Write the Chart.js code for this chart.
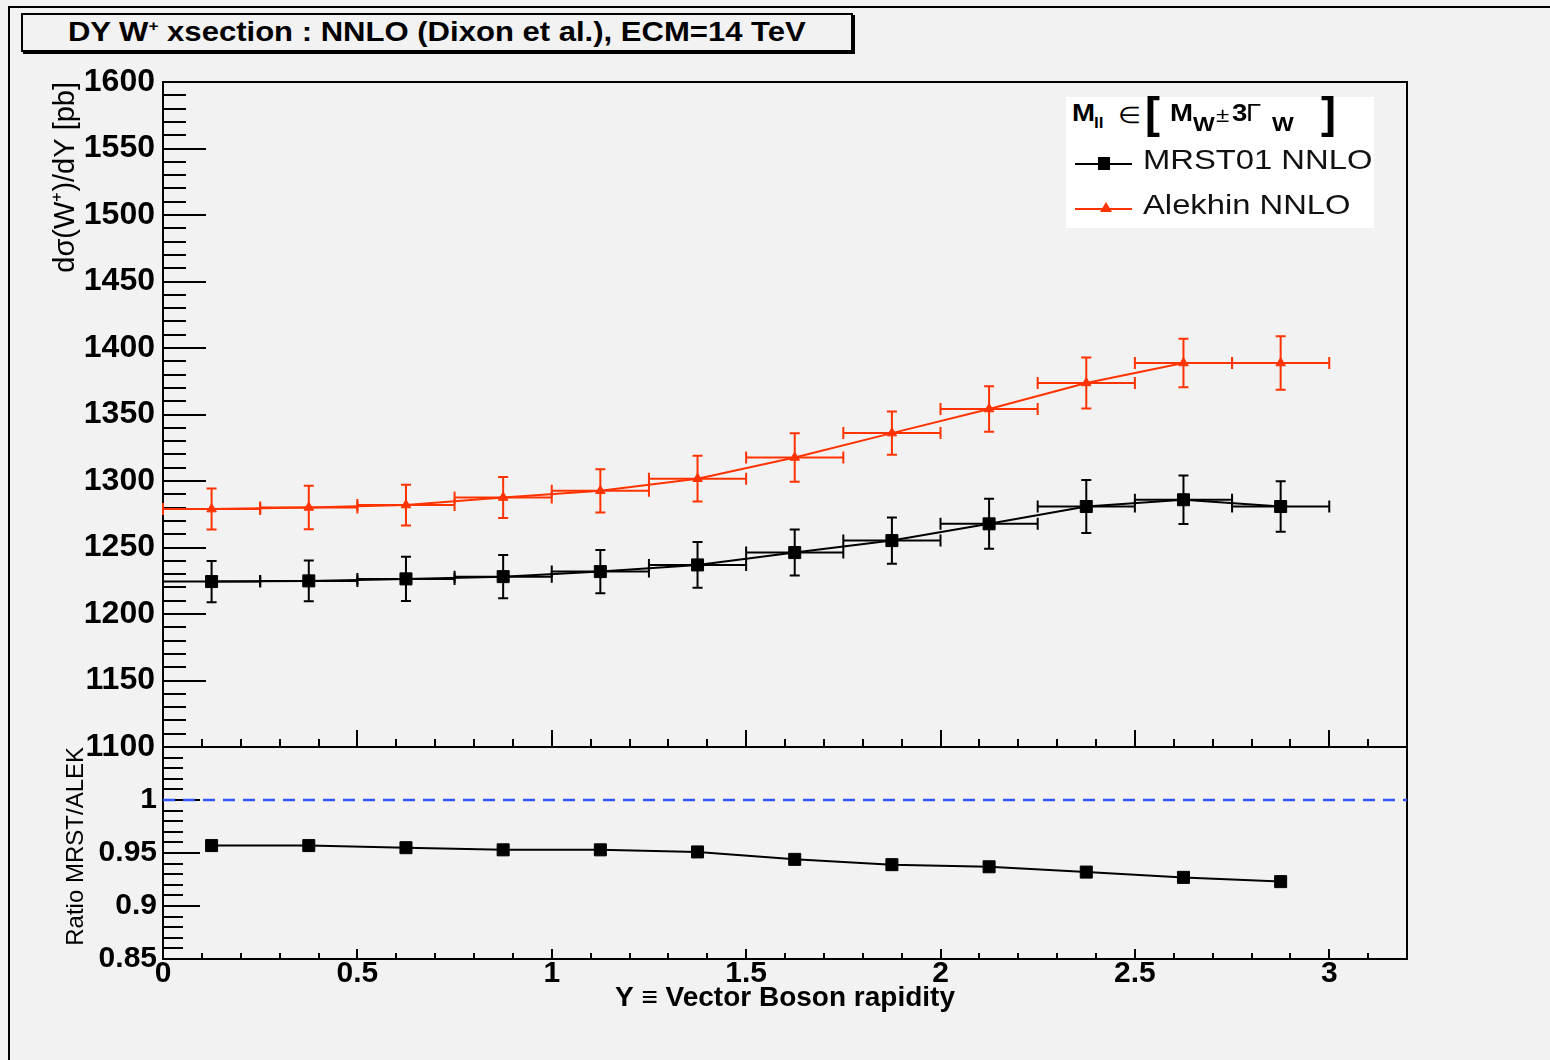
<!DOCTYPE html>
<html>
<head>
<meta charset="utf-8">
<title>DY W+ xsection</title>
<script src="https://cdn.jsdelivr.net/npm/chart.js@4.4.1/dist/chart.umd.min.js"></script>
<style>
  html, body { margin:0; padding:0; background:#f2f2f2; }
  #page { position:relative; width:1550px; height:1060px; overflow:hidden; background:#f2f2f2;
          font-family:"Liberation Sans", Arial, Helvetica, sans-serif; color:#000; }
  #page canvas { position:absolute; left:0; top:0; width:1550px; height:1060px; }
  .abs { position:absolute; white-space:nowrap; line-height:1; }
  .b { font-weight:bold; }
  .hd { transform:scaleX(1.15); transform-origin:left center; }
  #frameTop { position:absolute; left:8px; top:6px; width:1542px; height:2px; background:#000; }
  #frameLeft { position:absolute; left:8px; top:6px; width:2px; height:1054px; background:#000; }
  #titleBox { position:absolute; left:21px; top:13px; width:828px; height:35px; border:2px solid #000;
              box-shadow:2px 2px 0 #000; background:#f2f2f2; display:flex; align-items:center; justify-content:center; }
  #titleBox span { display:inline-block; font-weight:bold; font-size:27px; line-height:1; transform:scaleX(1.15); }
  #titleBox sup { font-size:15px; vertical-align:10px; line-height:0; }
  #legend { position:absolute; left:1066px; top:97px; width:308px; height:131px; background:#fff; }
  .entry { font-size:28px; transform:scaleX(1.17); transform-origin:left center; color:#111; }
</style>
</head>
<body>
<div id="page">
  <div id="frameTop"></div>
  <div id="frameLeft"></div>
  <div id="titleBox"><span>DY W<sup>+</sup> xsection : NNLO (Dixon et al.), ECM=14 TeV</span></div>
  <canvas id="cBottom" width="1550" height="1060"></canvas>
  <canvas id="cTop" width="1550" height="1060"></canvas>
  <div id="legend"></div>
  <!-- legend header: M_ll ∈ [ M_W ± 3Γ_W ] -->
  <div class="abs b hd" style="left:1072px;top:101px;font-size:24px;">M</div>
  <div class="abs b hd" style="left:1094px;top:115px;font-size:15px;">ll</div>
  <div class="abs hd" style="left:1118px;top:104px;font-size:23px;">∈</div>
  <div class="abs b" style="left:1145px;top:90px;font-size:45px;">[</div>
  <div class="abs b hd" style="left:1170px;top:101px;font-size:24px;">M</div>
  <div class="abs b hd" style="left:1193px;top:114px;font-size:20px;">W</div>
  <div class="abs hd" style="left:1216px;top:104px;font-size:21px;">±</div>
  <div class="abs b hd" style="left:1232px;top:101px;font-size:24px;">3</div>
  <div class="abs hd" style="left:1246px;top:101px;font-size:24px;">Γ</div>
  <div class="abs b hd" style="left:1272px;top:114px;font-size:20px;">W</div>
  <div class="abs b" style="left:1321px;top:90px;font-size:45px;">]</div>
  <!-- legend entries -->
  <div style="position:absolute;left:1075px;top:163px;width:57px;height:2px;background:#000;"></div>
  <div style="position:absolute;left:1098px;top:157px;width:12px;height:13px;background:#000;"></div>
  <div class="abs entry" style="left:1143px;top:146px;">MRST01 NNLO</div>
  <div style="position:absolute;left:1075px;top:208px;width:57px;height:2px;background:#ff3300;"></div>
  <div style="position:absolute;left:1100px;top:202px;width:0;height:0;border-left:6px solid transparent;border-right:6px solid transparent;border-bottom:10px solid #ff3300;"></div>
  <div class="abs entry" style="left:1143px;top:191px;">Alekhin NNLO</div>
</div>
<script>
// ---------------- data ----------------
const rapidity          = [0.125, 0.375, 0.625, 0.875, 1.125, 1.375, 1.625, 1.875, 2.125, 2.375, 2.625, 2.875];
const rapidityHalfWidth = [0.125, 0.125, 0.125, 0.125, 0.125, 0.125, 0.125, 0.125, 0.125, 0.125, 0.125, 0.125];
const mrstValues    = [1224.4, 1224.9, 1226.4, 1228.1, 1231.9, 1236.9, 1246.2, 1255.2, 1267.8, 1280.8, 1285.9, 1280.8];
const mrstErrors    = [15.5, 15.3, 16.6, 16.3, 16.3, 17.2, 17.3, 17.4, 18.8, 19.9, 18.2, 19.0];
const alekhinValues = [1278.9, 1280.1, 1281.9, 1287.6, 1292.6, 1301.7, 1317.7, 1336.0, 1354.1, 1373.7, 1388.7, 1388.7];
const alekhinErrors = [15.4, 16.3, 15.3, 15.4, 16.2, 17.2, 18.2, 16.3, 17.1, 19.2, 18.2, 20.1];
const ratioValues   = [0.957, 0.957, 0.955, 0.953, 0.953, 0.951, 0.944, 0.939, 0.937, 0.932, 0.927, 0.923];
const ratioReference = 1;
const rapidityRange = [0, 3.2];
const xsecRange     = [1100, 1600];
const ratioRange    = [0.85, 1.05];
const xTickValues     = [0, 0.5, 1, 1.5, 2, 2.5, 3];
const xsecTickValues  = [1100, 1150, 1200, 1250, 1300, 1350, 1400, 1450, 1500, 1550, 1600];
const ratioTickValues = [0.85, 0.9, 0.95, 1];
const seriesNames = ['MRST01 NNLO', 'Alekhin NNLO'];

// ---------------- styling ----------------
const RED = '#ff3300';
const BLUE = '#3355ff';
const FONT = '"Liberation Sans", Arial, Helvetica, sans-serif';
Chart.defaults.font.family = FONT;
Chart.defaults.color = '#000';

// ROOT-like frame with inward ticks
const rootAxes = {
  id: 'rootAxes',
  beforeDatasetsDraw(chart, args, o) {
    const {ctx, chartArea: a} = chart;
    const xs = chart.scales.x, ys = chart.scales[o.yId];
    ctx.save();
    ctx.strokeStyle = '#000';
    ctx.lineWidth = 2;
    const nY = Math.round((ys.max - ys.min) / o.yMinor);
    for (let i = 0; i <= nY; i++) {
      const v = ys.min + i * o.yMinor;
      const major = Math.abs(v / o.yMajor - Math.round(v / o.yMajor)) < 1e-6;
      const p = Math.round(ys.getPixelForValue(v));
      ctx.beginPath();
      ctx.moveTo(a.left, p);
      ctx.lineTo(a.left + (major ? o.yMajorLen : o.yMinorLen), p);
      ctx.stroke();
    }
    const nX = Math.round((xs.max - xs.min) / o.xMinor);
    for (let i = 0; i <= nX; i++) {
      const v = xs.min + i * o.xMinor;
      const major = Math.abs(v / o.xMajor - Math.round(v / o.xMajor)) < 1e-6;
      const p = Math.round(xs.getPixelForValue(v));
      ctx.beginPath();
      ctx.moveTo(p, a.bottom);
      ctx.lineTo(p, a.bottom - (major ? o.xMajorLen : o.xMinorLen));
      ctx.stroke();
    }
    ctx.strokeRect(a.left, a.top, a.right - a.left, a.bottom - a.top);
    ctx.restore();
  }
};

// error bars (bin width horizontally, uncertainty vertically), ROOT style with end caps
const errorBars = {
  id: 'errorBars',
  beforeDatasetsDraw(chart) {
    const {ctx} = chart;
    chart.data.datasets.forEach((ds, i) => {
      if (!ds.yErrors) return;
      const meta = chart.getDatasetMeta(i);
      const xs = chart.scales[meta.xAxisID], ys = chart.scales[meta.yAxisID];
      ctx.save();
      ctx.strokeStyle = ds.borderColor;
      ctx.lineWidth = 2;
      ds.data.forEach((pt, j) => {
        const px = xs.getPixelForValue(pt.x), py = ys.getPixelForValue(pt.y);
        const xl = xs.getPixelForValue(pt.x - ds.xHalfWidths[j]);
        const xr = xs.getPixelForValue(pt.x + ds.xHalfWidths[j]);
        const yt = ys.getPixelForValue(pt.y + ds.yErrors[j]);
        const yb = ys.getPixelForValue(pt.y - ds.yErrors[j]);
        ctx.beginPath();
        ctx.moveTo(xl, py); ctx.lineTo(xr, py);
        ctx.moveTo(xl, py - 6); ctx.lineTo(xl, py + 6);
        ctx.moveTo(xr, py - 6); ctx.lineTo(xr, py + 6);
        ctx.moveTo(px, yt); ctx.lineTo(px, yb);
        ctx.moveTo(px - 5, yt); ctx.lineTo(px + 5, yt);
        ctx.moveTo(px - 5, yb); ctx.lineTo(px + 5, yb);
        ctx.stroke();
      });
      ctx.restore();
    });
  }
};

const toPoints = (xs, ys) => xs.map((x, i) => ({x: x, y: ys[i]}));

// ---------------- top panel: cross sections ----------------
new Chart(document.getElementById('cTop'), {
  type: 'line',
  data: {
    datasets: [
      {
        label: seriesNames[0],
        data: toPoints(rapidity, mrstValues),
        yErrors: mrstErrors, xHalfWidths: rapidityHalfWidth,
        borderColor: '#000', backgroundColor: '#000', borderWidth: 2, tension: 0,
        pointStyle: 'rect', pointRadius: 8.5, pointBorderWidth: 1, pointBackgroundColor: '#000', pointBorderColor: '#000'
      },
      {
        label: seriesNames[1],
        data: toPoints(rapidity, alekhinValues),
        yErrors: alekhinErrors, xHalfWidths: rapidityHalfWidth,
        borderColor: RED, backgroundColor: RED, borderWidth: 2, tension: 0,
        pointStyle: 'triangle', pointRadius: 5.5, pointBorderWidth: 1, pointBackgroundColor: RED, pointBorderColor: RED
      }
    ]
  },
  options: {
    responsive: false, animation: false, devicePixelRatio: 1,
    layout: { padding: { left: 0, top: 82, right: 143, bottom: 313 } },
    plugins: {
      legend: { display: false }, tooltip: { enabled: false }, title: { display: false },
      rootAxes: { yId: 'y', yMinor: 10, yMajor: 50, yMajorLen: 43, yMinorLen: 23, xMinor: 0.1, xMajor: 0.5, xMajorLen: 17, xMinorLen: 8 }
    },
    scales: {
      x: { type: 'linear', min: rapidityRange[0], max: rapidityRange[1], display: false },
      y: {
        type: 'linear', min: xsecRange[0], max: xsecRange[1],
        afterFit: s => { s.width = 163; },
        afterBuildTicks: s => { s.ticks = xsecTickValues.map(v => ({value: v})); },
        grid: { display: false, drawTicks: false }, border: { display: false },
        ticks: { font: { family: FONT, weight: 'bold', size: 32, lineHeight: 1 }, color: '#000', padding: 8, callback: v => String(v) },
        title: { display: true, text: 'dσ(W⁺)/dY [pb]', align: 'end', color: '#000',
                 font: { family: FONT, size: 29, lineHeight: 1.2 }, padding: { top: 49, bottom: 0 } }
      }
    }
  },
  plugins: [rootAxes, errorBars]
});

// ---------------- bottom panel: ratio ----------------
new Chart(document.getElementById('cBottom'), {
  type: 'line',
  data: {
    datasets: [
      {
        label: 'MRST/ALEK',
        data: toPoints(rapidity, ratioValues),
        yAxisID: 'yR',
        borderColor: '#000', backgroundColor: '#000', borderWidth: 2, tension: 0,
        pointStyle: 'rect', pointRadius: 8.5, pointBorderWidth: 1, pointBackgroundColor: '#000', pointBorderColor: '#000'
      },
      {
        label: 'ratio = 1',
        data: [{x: rapidityRange[0], y: ratioReference}, {x: rapidityRange[1], y: ratioReference}],
        yAxisID: 'yR',
        borderColor: BLUE, borderWidth: 2.5, borderDash: [12, 8], pointRadius: 0, tension: 0
      }
    ]
  },
  options: {
    responsive: false, animation: false, devicePixelRatio: 1,
    layout: { padding: { left: 0, top: 747, right: 143, bottom: 31 } },
    plugins: {
      legend: { display: false }, tooltip: { enabled: false }, title: { display: false },
      rootAxes: { yId: 'yR', yMinor: 0.01, yMajor: 0.05, yMajorLen: 37, yMinorLen: 20, xMinor: 0.1, xMajor: 0.5, xMajorLen: 10, xMinorLen: 6 }
    },
    scales: {
      x: {
        type: 'linear', min: rapidityRange[0], max: rapidityRange[1],
        afterFit: s => { s.height = 70; },
        afterBuildTicks: s => { s.ticks = xTickValues.map(v => ({value: v})); },
        grid: { display: false, drawTicks: false }, border: { display: false },
        ticks: { font: { family: FONT, weight: 'bold', size: 30, lineHeight: 1 }, color: '#000', padding: 0,
                 maxRotation: 0, autoSkip: false, callback: v => String(v) },
        title: { display: true, text: 'Y ≡ Vector Boson rapidity', color: '#000',
                 font: { family: FONT, weight: 'bold', size: 28, lineHeight: 1.2 }, padding: { top: 0, bottom: 14 } }
      },
      yR: {
        type: 'linear', position: 'left', min: ratioRange[0], max: ratioRange[1],
        afterFit: s => { s.width = 163; },
        afterBuildTicks: s => { s.ticks = ratioTickValues.map(v => ({value: v})); },
        grid: { display: false, drawTicks: false }, border: { display: false },
        ticks: { font: { family: FONT, weight: 'bold', size: 30, lineHeight: 1 }, color: '#000', padding: 6, callback: v => String(v) },
        title: { display: true, text: 'Ratio MRST/ALEK', align: 'end', color: '#000',
                 font: { family: FONT, size: 24, lineHeight: 1.2 }, padding: { top: 62, bottom: 0 } }
      }
    }
  },
  plugins: [rootAxes, errorBars]
});
</script>
</body>
</html>
